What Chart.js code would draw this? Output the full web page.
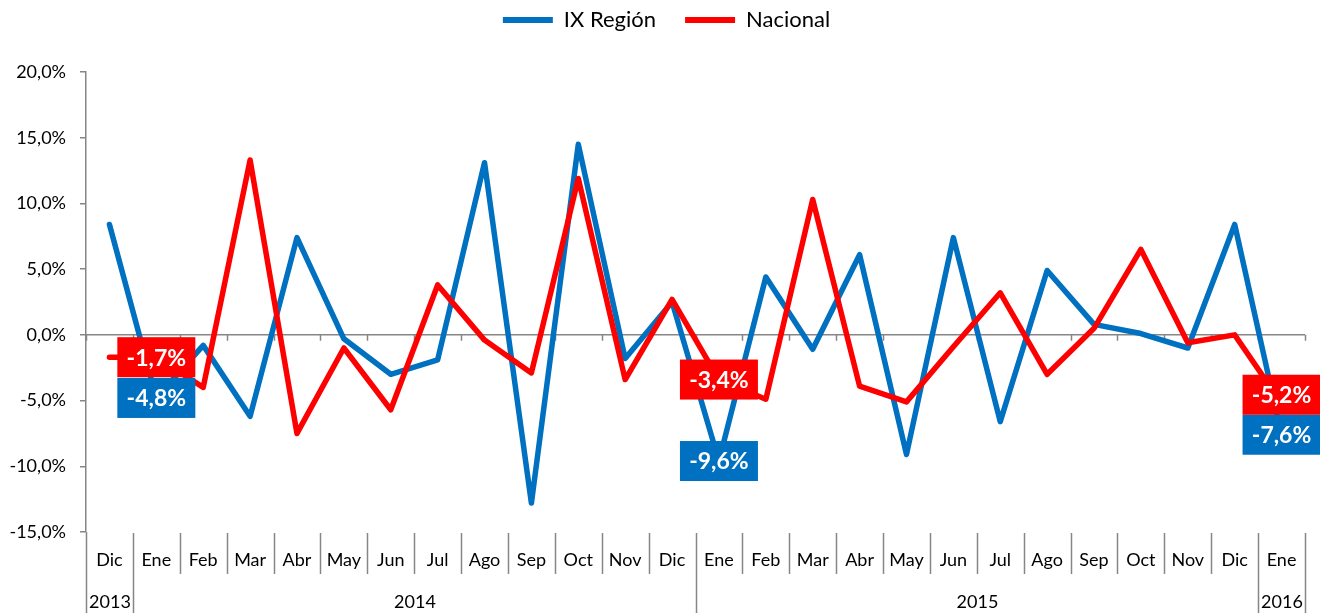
<!DOCTYPE html>
<html>
<head>
<meta charset="utf-8">
<script src="https://cdn.jsdelivr.net/npm/chart.js@4/dist/chart.umd.min.js"></script>
<style>
  html, body { margin: 0; padding: 0; background: #ffffff; }
  #wrap { width: 1320px; height: 613px; position: relative; }
</style>
</head>
<body>
<div id="wrap"><canvas id="c" width="1320" height="613"></canvas></div>
<script>
const months = ["Dic","Ene","Feb","Mar","Abr","May","Jun","Jul","Ago","Sep","Oct","Nov","Dic",
                "Ene","Feb","Mar","Abr","May","Jun","Jul","Ago","Sep","Oct","Nov","Dic","Ene"];
const years = ["2013","2014","2015","2016"];
const yearSpans = [1, 12, 12, 1];
const ixRegion = [8.4,-4.8,-0.8,-6.2,7.4,-0.3,-3.0,-1.9,13.1,-12.8,14.5,-1.8,2.5,
                  -9.6,4.4,-1.1,6.1,-9.1,7.4,-6.6,4.9,0.8,0.1,-1.0,8.4,-7.6];
const nacional = [-1.7,-1.7,-4.0,13.3,-7.5,-1.0,-5.7,3.8,-0.4,-2.9,11.9,-3.4,2.7,
                  -3.4,-4.9,10.3,-3.9,-5.1,-0.9,3.2,-3.0,0.5,6.5,-0.6,0.0,-5.2];
const labeledIdx = [1, 13, 25];
const yTicks = [-15, -10, -5, 0, 5, 10, 15, 20];

const BLUE = '#0070C0';
const RED = '#FF0000';
const AXIS = '#868686';
const FONT = 'Lato, "Liberation Sans", sans-serif';

function fmt(v) { return v.toFixed(1).replace('.', ',') + '%'; }

const legendHeightPlugin = {
  id: 'legendHeight',
  beforeLayout(chart) {
    const lg = chart.legend;
    if (lg && !lg._hPatched) {
      const orig = lg.fit.bind(lg);
      lg.fit = function () { orig(); this.height = 92; };
      lg._hPatched = true;
    }
  },
  afterLayout(chart) {
    const lg = chart.legend;
    if (lg) { lg.left += 14; lg.right += 14; }
  }
};

const axisPlugin = {
  id: 'excelAxis',
  beforeDatasetsDraw(chart) {
    const ctx = chart.ctx, x = chart.scales.x, y = chart.scales.y, a = chart.chartArea;
    const y0 = y.getPixelForValue(0);
    const w = (x.getPixelForValue(1) - x.getPixelForValue(0));
    ctx.save();
    ctx.strokeStyle = AXIS; ctx.lineWidth = 1.5;
    ctx.beginPath();
    ctx.moveTo(a.left, y0); ctx.lineTo(a.right, y0);
    for (let i = 0; i <= months.length; i++) {
      const bx = Math.round(x.getPixelForValue(i) - w / 2) + 0.5;
      ctx.moveTo(bx, y0); ctx.lineTo(bx, y0 + 6);
    }
    ctx.stroke();
    ctx.restore();
  },
  afterDraw(chart) {
    const ctx = chart.ctx, x = chart.scales.x, a = chart.chartArea;
    const H = chart.height;
    const w = (x.getPixelForValue(1) - x.getPixelForValue(0));
    const bnd = i => Math.round(x.getPixelForValue(i) - w / 2) + 0.5;
    ctx.save();
    ctx.strokeStyle = AXIS; ctx.lineWidth = 1.5;
    ctx.beginPath();
    ctx.moveTo(bnd(0), a.bottom); ctx.lineTo(bnd(0), H);
    for (let i = 1; i < months.length; i++) {
      ctx.moveTo(bnd(i), a.bottom + 1); ctx.lineTo(bnd(i), a.bottom + 42);
    }
    let acc = 0;
    for (let k = 0; k < yearSpans.length; k++) {
      acc += yearSpans[k];
      ctx.moveTo(bnd(acc), a.bottom + 1); ctx.lineTo(bnd(acc), H);
    }
    ctx.stroke();
    ctx.fillStyle = '#000000';
    ctx.font = '18px ' + FONT;
    ctx.textAlign = 'center'; ctx.textBaseline = 'middle';
    months.forEach((m, i) => ctx.fillText(m, x.getPixelForValue(i), a.bottom + 28));
    let start = 0;
    years.forEach((yr, k) => {
      const cx = (bnd(start) + bnd(start + yearSpans[k])) / 2;
      ctx.fillText(yr, cx, a.bottom + 70);
      start += yearSpans[k];
    });
    ctx.restore();
  },
  afterDatasetsDraw(chart) {
    const ctx = chart.ctx, x = chart.scales.x, y = chart.scales.y;
    const bw = 78, bh = 40;
    ctx.save();
    ctx.font = 'bold 23px ' + FONT;
    ctx.textAlign = 'center'; ctx.textBaseline = 'middle';
    labeledIdx.forEach(i => {
      const cx = x.getPixelForValue(i);
      let by = y.getPixelForValue(ixRegion[i]);
      let ry = y.getPixelForValue(nacional[i]);
      if (ry + bh / 2 > by - bh / 2) ry = by - bh;
      [[by, BLUE, ixRegion[i]], [ry, RED, nacional[i]]].forEach(([cy, col, v]) => {
        ctx.fillStyle = col;
        ctx.fillRect(cx - bw / 2, cy - bh / 2, bw, bh);
        ctx.fillStyle = '#ffffff';
        ctx.fillText(fmt(v), cx, cy + 1);
      });
    });
    ctx.restore();
  }
};

new Chart(document.getElementById('c'), {
  type: 'line',
  data: {
    labels: months,
    datasets: [
      { label: 'IX Región', data: ixRegion, borderColor: BLUE, backgroundColor: BLUE,
        borderWidth: 5.5, pointRadius: 0, tension: 0, order: 2,
        borderJoinStyle: 'round', borderCapStyle: 'round' },
      { label: 'Nacional', data: nacional, borderColor: RED, backgroundColor: RED,
        borderWidth: 5.5, pointRadius: 0, tension: 0, order: 1,
        borderJoinStyle: 'round', borderCapStyle: 'round' }
    ]
  },
  options: {
    responsive: false,
    animation: false,
    events: [],
    layout: { padding: { left: 0, right: 15, top: -20, bottom: 81 } },
    plugins: {
      tooltip: { enabled: false },
      legend: {
        position: 'top',
        labels: {
          color: '#000000',
          font: { family: FONT, size: 22 },
          boxWidth: 50, boxHeight: 6, padding: 29,
          generateLabels: () => [
            { text: 'IX Región', fillStyle: BLUE, strokeStyle: BLUE, lineWidth: 0, datasetIndex: 0 },
            { text: 'Nacional', fillStyle: RED, strokeStyle: RED, lineWidth: 0, datasetIndex: 1 }
          ]
        }
      }
    },
    scales: {
      x: { type: 'category', display: false, offset: true },
      y: {
        min: -15, max: 20,
        afterBuildTicks: s => { s.ticks = yTicks.map(v => ({ value: v })); },
        afterFit: s => { s.width = 86; s.paddingTop = 72; },
        grid: { display: true, drawOnChartArea: false, drawTicks: true, tickLength: 6, color: AXIS, lineWidth: 1.5 },
        border: { display: true, color: AXIS, width: 1.5 },
        ticks: { padding: 14, color: '#000000', font: { family: FONT, size: 18 }, callback: v => fmt(v) }
      }
    }
  },
  plugins: [legendHeightPlugin, axisPlugin]
});
</script>
</body>
</html>
